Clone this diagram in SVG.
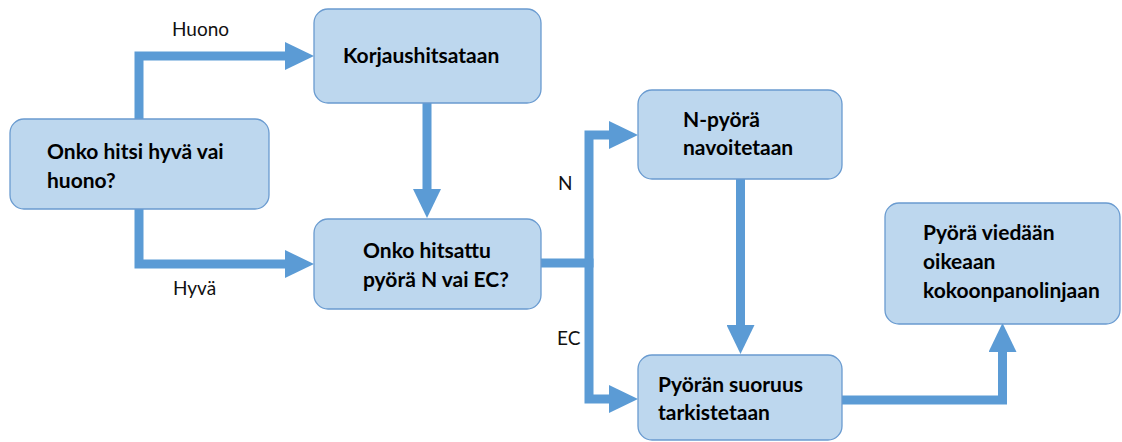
<svg xmlns="http://www.w3.org/2000/svg" width="1122" height="442" viewBox="0 0 1122 442">
<style>
.node rect{fill:#BDD7EE;stroke:#6A9BD0;stroke-width:1.3}
.t{font-family:Lato,"Open Sans","Liberation Sans",sans-serif;font-weight:bold;font-size:21px;fill:#000}
.lbl{font-family:Lato,"Open Sans","Liberation Sans",sans-serif;font-size:19px;fill:#111}
.c path{fill:none;stroke:#5B9BD5;stroke-width:9;stroke-linejoin:miter}
</style>
<defs>
<marker id="ah" markerUnits="userSpaceOnUse" viewBox="0 0 29 28" markerWidth="29" markerHeight="28" refX="0" refY="14" orient="auto">
<path d="M0,0 L29,14 L0,28 Z" fill="#5B9BD5"/>
</marker>
</defs>
<g class="c" id="connectors">
<path d="M139,119 V56 H285" marker-end="url(#ah)"/>
<path d="M139,209 V264 H285" marker-end="url(#ah)"/>
<path d="M427,103 V189" marker-end="url(#ah)"/>
<path d="M541,263 H593.5"/>
<path d="M589,263 V135 H609" marker-end="url(#ah)"/>
<path d="M589,263 V399 H609" marker-end="url(#ah)"/>
<path d="M740.5,179 V325" marker-end="url(#ah)"/>
<path d="M842,400 H1002.5 V352" marker-end="url(#ah)"/>
</g>
<g id="labels">
<text class="lbl" x="172" y="36">Huono</text>
<text class="lbl" x="173" y="295">Hyvä</text>
<text class="lbl" x="558" y="190">N</text>
<text class="lbl" x="557" y="345">EC</text>
</g>
<g class="node" id="n1">
<rect x="10" y="119" width="259" height="90" rx="14"/>
<text class="t" x="47" y="159">Onko hitsi hyvä vai</text>
<text class="t" x="47" y="188">huono?</text>
</g>
<g class="node" id="n2">
<rect x="314" y="9" width="227" height="94" rx="14"/>
<text class="t" x="343" y="63">Korjaushitsataan</text>
</g>
<g class="node" id="n3">
<rect x="314" y="219" width="227" height="90" rx="14"/>
<text class="t" x="363" y="258">Onko hitsattu</text>
<text class="t" x="363" y="287">pyörä N vai EC?</text>
</g>
<g class="node" id="n4">
<rect x="638" y="90" width="204" height="89" rx="14"/>
<text class="t" x="683" y="127">N-pyörä</text>
<text class="t" x="683" y="155">navoitetaan</text>
</g>
<g class="node" id="n5">
<rect x="638" y="355" width="204" height="85" rx="14"/>
<text class="t" x="658" y="392">Pyörän suoruus</text>
<text class="t" x="658" y="420">tarkistetaan</text>
</g>
<g class="node" id="n6">
<rect x="885" y="203" width="235" height="121" rx="14"/>
<text class="t" x="923" y="240">Pyörä viedään</text>
<text class="t" x="923" y="269">oikeaan</text>
<text class="t" x="923" y="298">kokoonpanolinjaan</text>
</g>
</svg>
